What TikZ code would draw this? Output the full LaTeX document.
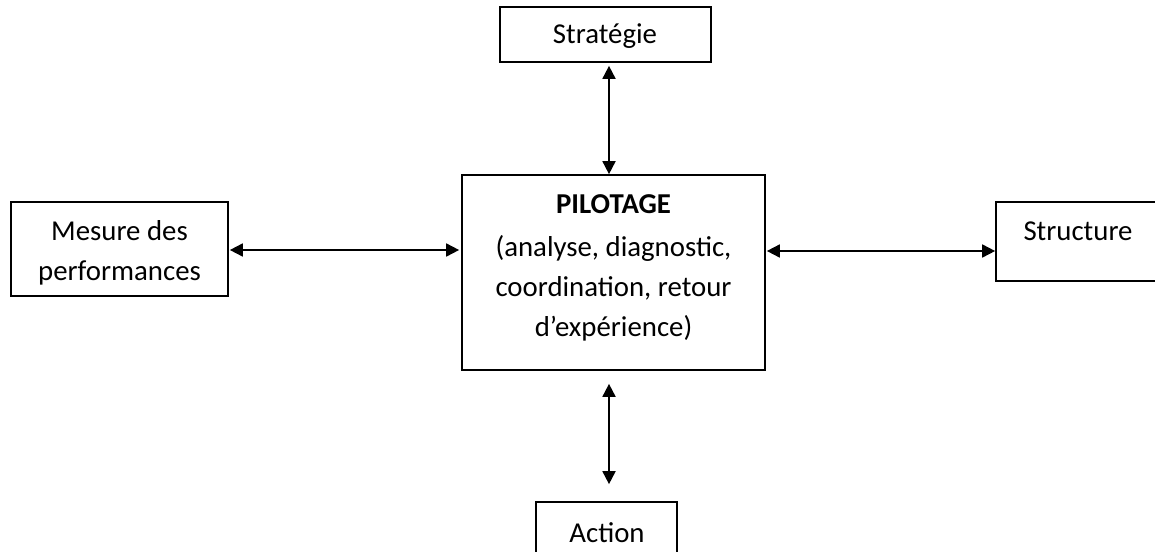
\documentclass[tikz,border=0pt]{standalone}
\usepackage{fontspec}
\setmainfont{Carlito}
\usetikzlibrary{arrows.meta}
\begin{document}
\begin{tikzpicture}[x=1pt,y=-1pt,
  box/.style={draw, line width=1.7pt, rectangle, inner sep=0pt},
  lbl/.style={inner sep=0pt, align=center, font=\fontsize{28.8}{40}\selectfont},
  arr/.style={line width=1.8pt, {Triangle[length=13pt,width=13pt]}-{Triangle[length=13pt,width=13pt]}}]
\useasboundingbox[fill=white] (0,0) rectangle (1155,551);

% central box
\node[box, minimum width=303, minimum height=195] (pilot) at (613.5,272.5) {};
\node[lbl] (pilottext) at (613.5,268) {\textbf{PILOTAGE}\\[3pt](analyse, diagnostic,\\coordination, retour\\d’expérience)};

% surrounding boxes
\node[box, minimum width=211, minimum height=55] (strat) at (605.5,34.5) {};
\node[lbl] (strattext) at (605,36) {Stratégie};
\node[box, minimum width=217, minimum height=94] (mesure) at (119.5,249) {};
\node[lbl] (mesuretext) at (119.5,253) {Mesure des\\performances};
\node[box, minimum width=190, minimum height=79] (structure) at (1091,241.5) {};
\node[lbl] (structtext) at (1078,231) {Structure};
\node[box, minimum width=141, minimum height=80] (action) at (606.5,542) {};
\node[lbl] (actiontext) at (607,533) {Action};

% connectors
\coordinate (vx) at (609,0);
\coordinate (hl) at (0,250);
\coordinate (hr) at (0,251);
\draw[arr, shorten <=3pt] (strat.south -| vx) -- (pilot.north -| vx);
\draw[arr, shorten <=13pt, shorten >=17pt] (pilot.south -| vx) -- (action.north -| vx);
\draw[arr, shorten <=1pt, shorten >=2pt] (mesure.east |- hl) -- (pilot.west |- hl);
\draw[arr, shorten <=1pt] (pilot.east |- hr) -- (structure.west |- hr);
\end{tikzpicture}
\end{document}
